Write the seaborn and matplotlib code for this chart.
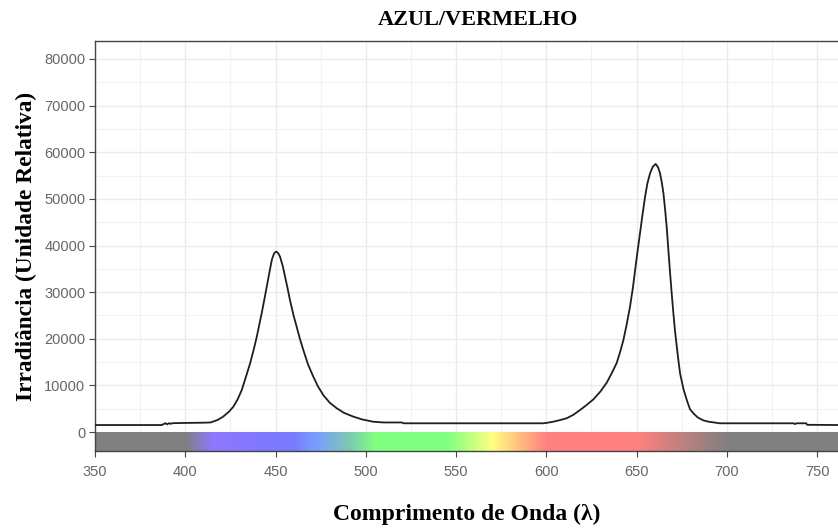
import numpy as np
import pandas as pd
import matplotlib
matplotlib.use("Agg")
import matplotlib.pyplot as plt
from matplotlib.ticker import MultipleLocator
import seaborn as sns

# ---- data ----
wavelength = [350, 360, 370, 380, 387, 388, 389, 390, 391, 392, 393, 400, 410, 414,
              418, 421, 424, 426.6, 429, 431.3, 433.5, 435.9, 438, 439.6, 442.3, 444,
              445.5, 447, 448, 449.2, 450.3, 451.4, 452.5, 454, 455.3, 456.7, 458, 460,
              461.7, 463.5, 465.4, 468, 470.9, 473.5, 476.5, 480, 483.9, 488, 493.1,
              498, 504.2, 510, 520, 521, 560, 598, 600, 604, 608, 611.3, 615, 618.7,
              622, 626.1, 630, 633.5, 636.5, 639, 641, 642.7, 644.5, 646.4, 648, 649.2,
              650.5, 651.9, 653.3, 654.7, 656, 657.5, 659, 660.6, 662, 663, 664, 664.9,
              665.8, 666.7, 667.6, 668.6, 669.5, 670.4, 671.3, 672.3, 673.2, 674.1, 676,
              677.8, 679.6, 681.5, 684, 687, 690, 693, 696, 737, 737.8, 738.5, 744,
              744.5, 762]
irradiance = [1500, 1500, 1500, 1500, 1500, 1700, 1900, 1650, 1900, 1750, 1900, 1950,
              2000, 2050, 2600, 3300, 4300, 5400, 7000, 9000, 11700, 14700, 17800, 20400,
              25400, 28800, 31900, 35000, 37000, 38300, 38700, 38400, 37600, 35600, 33300,
              30800, 28300, 25000, 22600, 20000, 17600, 14500, 11900, 9800, 7900, 6300,
              5100, 4100, 3300, 2700, 2200, 2050, 2050, 1870, 1870, 1870, 1950, 2220,
              2600, 2950, 3700, 4720, 5700, 7000, 8700, 10600, 12800, 14800, 17300, 19700,
              23000, 26900, 31000, 34700, 38600, 42600, 46600, 50400, 53300, 55500, 56900,
              57500, 56700, 55500, 53500, 51200, 47800, 44000, 39200, 34000, 29600, 25500,
              21700, 18300, 15300, 12600, 9200, 6900, 4900, 4000, 3100, 2500, 2200, 2050,
              1870, 1870, 1700, 1870, 1870, 1550, 1500]

# colour strip: wavelength stops and colours (as seen, 50% over white)
strip_nm = [350, 400, 415, 440, 460, 473, 490, 505, 545, 570, 585, 600, 650, 700, 762]
strip_rgb = [(128, 128, 128), (128, 128, 128), (142, 120, 255), (130, 120, 255),
             (120, 125, 255), (120, 160, 255), (125, 200, 180), (128, 255, 128),
             (128, 255, 128), (255, 255, 128), (255, 190, 128), (255, 128, 128),
             (255, 128, 128), (128, 128, 128), (128, 128, 128)]

x_ticks = [350, 400, 450, 500, 550, 600, 650, 700, 750]
y_ticks = [0, 10000, 20000, 30000, 40000, 50000, 60000, 70000, 80000]

title = "AZUL/VERMELHO"
xlabel = "Comprimento de Onda (λ)"
ylabel = "Irradiância (Unidade Relativa)"

# ---- figure ----
sns.set_theme(style="white")
plt.rcParams["font.family"] = ["DejaVu Sans"]

W, H = 838, 532
fig = plt.figure(figsize=(W / 100, H / 100), dpi=100)
ax = fig.add_axes([95 / W, 1 - 451 / H, (W - 95) / W, 410 / H])

XMIN, XMAX = 350, 761.6
YMIN, YMAX = -4070, 83860

# grid
ax.xaxis.set_major_locator(MultipleLocator(50))
ax.xaxis.set_minor_locator(MultipleLocator(25))
ax.yaxis.set_major_locator(MultipleLocator(10000))
ax.yaxis.set_minor_locator(MultipleLocator(5000))
ax.grid(True, which="major", color="#ebebeb", lw=1.0, zorder=0)
ax.grid(True, which="minor", color="#f2f2f2", lw=0.8, zorder=0)
ax.set_axisbelow(True)

# colour strip
grid_nm = np.linspace(XMIN, XMAX, 800)
rgb = np.array(strip_rgb) / 255.0
img = np.stack([np.interp(grid_nm, strip_nm, rgb[:, k]) for k in range(3)], axis=-1)
ax.imshow(img[np.newaxis, :, :], extent=(XMIN, XMAX, YMIN, 0), aspect="auto",
          interpolation="bilinear", zorder=2)

df = pd.DataFrame({"nm": wavelength, "irr": irradiance})
sns.lineplot(data=df, x="nm", y="irr", ax=ax, color="#1e1e1e", lw=1.3,
             estimator=None, sort=True, zorder=3)

ax.set_xlim(XMIN, XMAX)
ax.set_ylim(YMIN, YMAX)
ax.set_xticks(x_ticks)
ax.set_yticks(y_ticks)
ax.set_xticklabels([str(v) for v in x_ticks])
ax.set_yticklabels([str(v) for v in y_ticks])

tick_font = ["Liberation Sans", "DejaVu Sans"]
for lab in ax.get_xticklabels() + ax.get_yticklabels():
    lab.set_family(tick_font)
    lab.set_fontsize(10.5)
    lab.set_color("#666666")
ax.tick_params(which="major", direction="out", length=4, width=0.8, color="#444444",
               bottom=True, left=True)
ax.tick_params(axis="x", which="major", pad=6)
ax.tick_params(axis="y", which="major", pad=3)
ax.tick_params(which="minor", length=0)

for s in ["top", "left", "bottom"]:
    ax.spines[s].set_color("#444444")
    ax.spines[s].set_linewidth(1.0)
ax.spines["right"].set_visible(False)

serif = ["Liberation Serif", "DejaVu Serif"]
ax.set_xlabel(xlabel, family=serif, fontsize=17, fontweight="bold", color="black",
              labelpad=18)
ax.set_ylabel(ylabel, family=serif, fontsize=16.8, fontweight="bold", color="black",
              labelpad=5)
fig.text(478 / W, 1 - 20 / H, title, family=serif, fontsize=16, fontweight="bold",
         ha="center", va="center", color="black")

fig.savefig("out.png", dpi=100)
